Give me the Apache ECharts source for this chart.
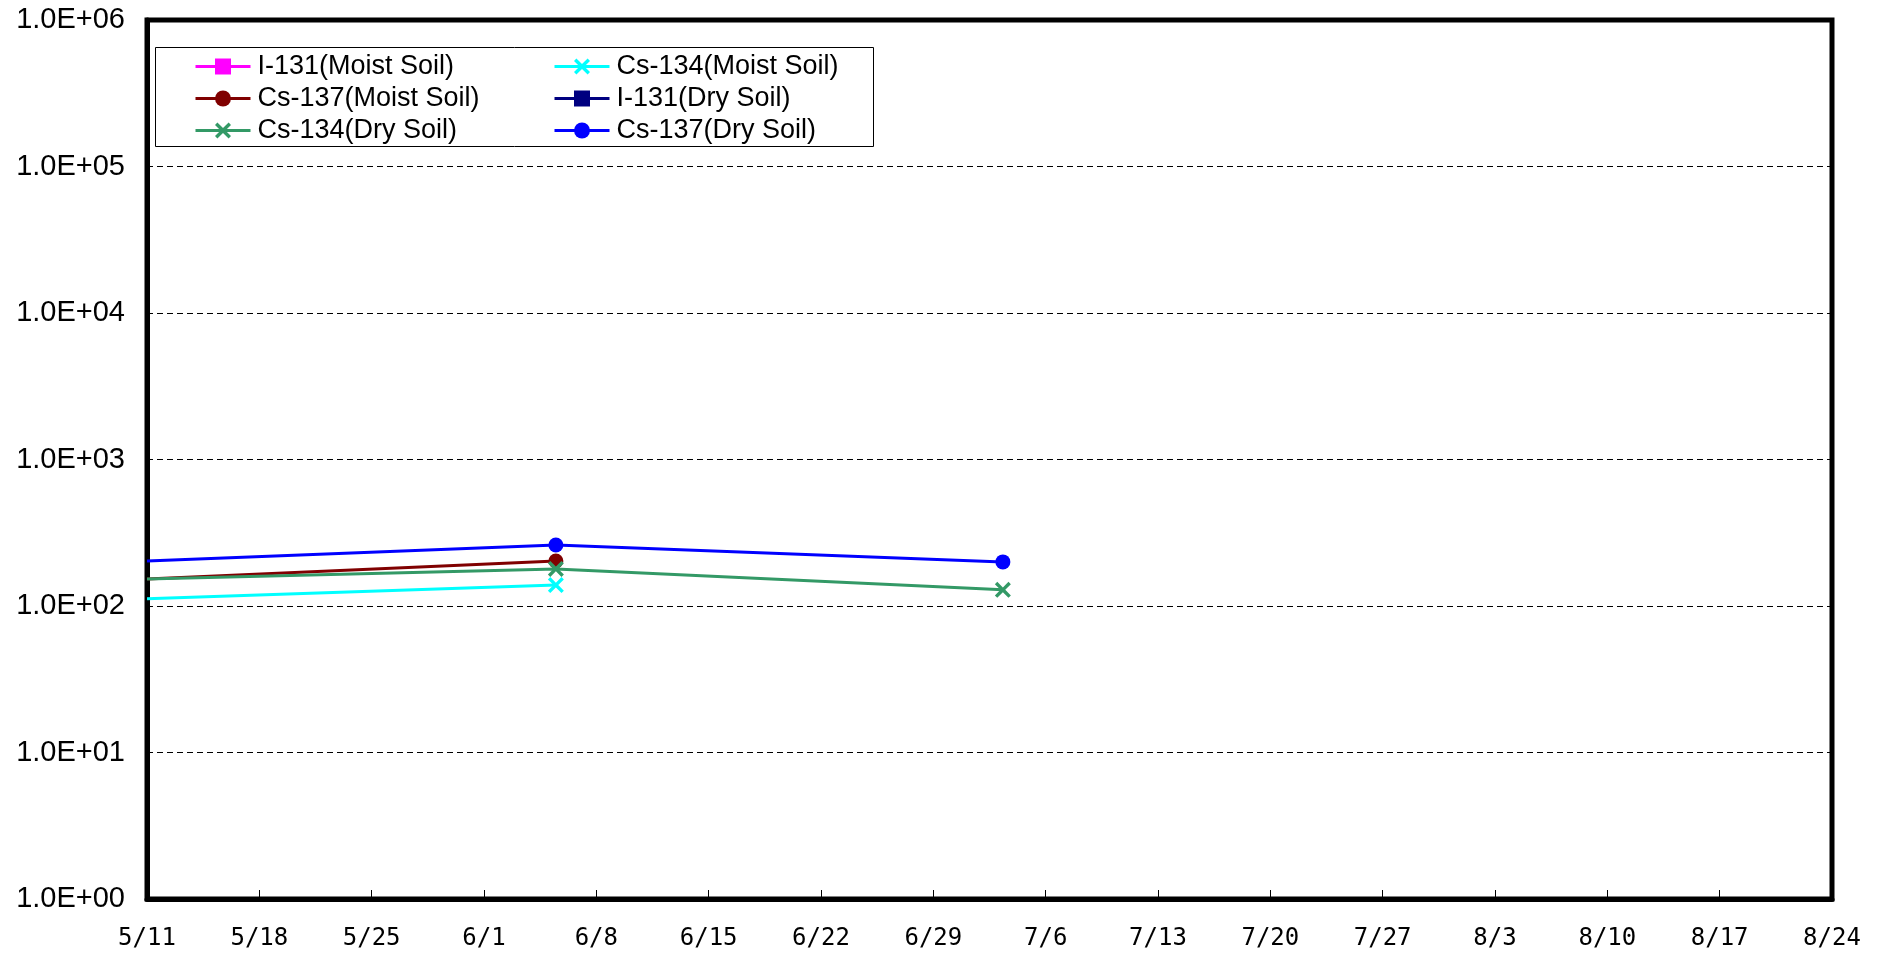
<!DOCTYPE html>
<html>
<head>
<meta charset="utf-8">
<script src="https://cdn.jsdelivr.net/npm/echarts@6/dist/echarts.min.js"></script>
<style>
html,body{margin:0;padding:0;background:#fff;}
#chart{width:1885px;height:957px;}
</style>
</head>
<body>
<div id="chart"></div>
<script>
// ---- data ----
const xTickLabels = ['5/11','5/18','5/25','6/1','6/8','6/15','6/22','6/29','7/6','7/13','7/20','7/27','8/3','8/10','8/17','8/24'];
const yTickLabels = ['1.0E+00','1.0E+01','1.0E+02','1.0E+03','1.0E+04','1.0E+05','1.0E+06'];
const axisStart = '2011-05-11T00:00';

const seriesNames = ['I-131(Moist Soil)','Cs-134(Moist Soil)','Cs-137(Moist Soil)','I-131(Dry Soil)','Cs-134(Dry Soil)','Cs-137(Dry Soil)'];

// line enters the chart at the left edge (5/11) from an earlier sample; that entry point has no marker
const i131MoistDates = [];
const i131MoistValues = [];
const cs134MoistDates = ['2011-05-11T00:00','2011-06-05T11:30'];
const cs134MoistValues = [112, 139];
const cs137MoistDates = ['2011-05-11T00:00','2011-06-05T11:30'];
const cs137MoistValues = [153, 203];
const i131DryDates = [];
const i131DryValues = [];
const cs134DryDates = ['2011-05-11T00:00','2011-06-05T11:30','2011-07-03T08:00'];
const cs134DryValues = [153, 179, 129];
const cs137DryDates = ['2011-05-11T00:00','2011-06-05T11:30','2011-07-03T08:00'];
const cs137DryValues = [203, 261, 200];

// ---- helpers ----
const DAY = 86400000;
const t0 = new Date(axisStart + 'Z').getTime();
function toDay(s){ return (new Date(s + 'Z').getTime() - t0) / DAY; }
function pts(dates, vals){
  return dates.map((d, i) => {
    const p = {value: [toDay(d), vals[i]]};
    if (i === 0 && toDay(d) === 0) p.symbol = 'none';
    return p;
  });
}
const XSYM = 'path://M0,1.5L1.5,0L5,3.5L8.5,0L10,1.5L6.5,5L10,8.5L8.5,10L5,6.5L1.5,10L0,8.5L3.5,5Z';

function mk(name, color, symbol, size, data){
  return {
    name: name, type: 'line', data: data,
    symbol: symbol, symbolSize: size, showSymbol: true,
    lineStyle: {color: color, width: 3},
    itemStyle: {color: color},
    emphasis: {disabled: true},
    clip: true, z: 3
  };
}

const legendText = {fontSize: 27, lineHeight: 27, color: '#000', fontFamily: 'Liberation Sans, Arial', padding: [0,0,0,2]};

const chart = echarts.init(document.getElementById('chart'), null, {renderer: 'canvas'});
const option = {
  animation: false,
  backgroundColor: '#fff',
  grid: {left: 147, right: 53, top: 20, bottom: 58, show: true, borderColor: '#000', borderWidth: 5, backgroundColor: 'transparent', containLabel: false},
  xAxis: {
    type: 'value', min: 0, max: 105, interval: 7,
    axisLine: {show: true, lineStyle: {color: '#000', width: 5}},
    axisTick: {show: true, inside: true, length: 9, lineStyle: {color: '#000', width: 1}},
    splitLine: {show: false},
    axisLabel: {
      margin: 28, color: '#000', fontSize: 24, fontFamily: 'DejaVu Sans Mono',
      formatter: v => xTickLabels[Math.round(v / 7)] || ''
    }
  },
  yAxis: {
    type: 'log', logBase: 10, min: 1, max: 1000000, splitNumber: 6,
    axisLine: {show: true, lineStyle: {color: '#000', width: 5}},
    axisTick: {show: false},
    splitLine: {show: true, lineStyle: {color: '#000', width: 1, type: [6, 4]}},
    axisLabel: {
      margin: 22, color: '#000', fontSize: 29, fontFamily: 'Liberation Sans, Arial',
      formatter: v => yTickLabels[Math.round(Math.log10(v))] || ''
    }
  },
  legend: [
    {
      data: [seriesNames[0], seriesNames[2], seriesNames[4]],
      orient: 'vertical', left: 194, top: 53, padding: 0,
      itemWidth: 55, itemHeight: 20, itemGap: 5,
      lineStyle: {width: 3},
      textStyle: legendText,
      selectedMode: false
    },
    {
      data: [seriesNames[1], seriesNames[3], seriesNames[5]],
      orient: 'vertical', left: 553, top: 53, padding: 0,
      itemWidth: 55, itemHeight: 20, itemGap: 5,
      lineStyle: {width: 3},
      textStyle: legendText,
      selectedMode: false
    }
  ],
  graphic: [{
    type: 'rect', shape: {x: 155.5, y: 47.5, width: 718, height: 99},
    style: {fill: 'none', stroke: '#000', lineWidth: 1}, z: 1
  }],
  series: [
    mk(seriesNames[0], '#FF00FF', 'rect', 14, pts(i131MoistDates, i131MoistValues)),
    mk(seriesNames[1], '#00FFFF', XSYM, 16, pts(cs134MoistDates, cs134MoistValues)),
    mk(seriesNames[2], '#800000', 'circle', 15, pts(cs137MoistDates, cs137MoistValues)),
    mk(seriesNames[3], '#000080', 'rect', 14, pts(i131DryDates, i131DryValues)),
    mk(seriesNames[4], '#339966', XSYM, 16, pts(cs134DryDates, cs134DryValues)),
    mk(seriesNames[5], '#0000FF', 'circle', 15, pts(cs137DryDates, cs137DryValues))
  ]
};
chart.setOption(option);
</script>
</body>
</html>
